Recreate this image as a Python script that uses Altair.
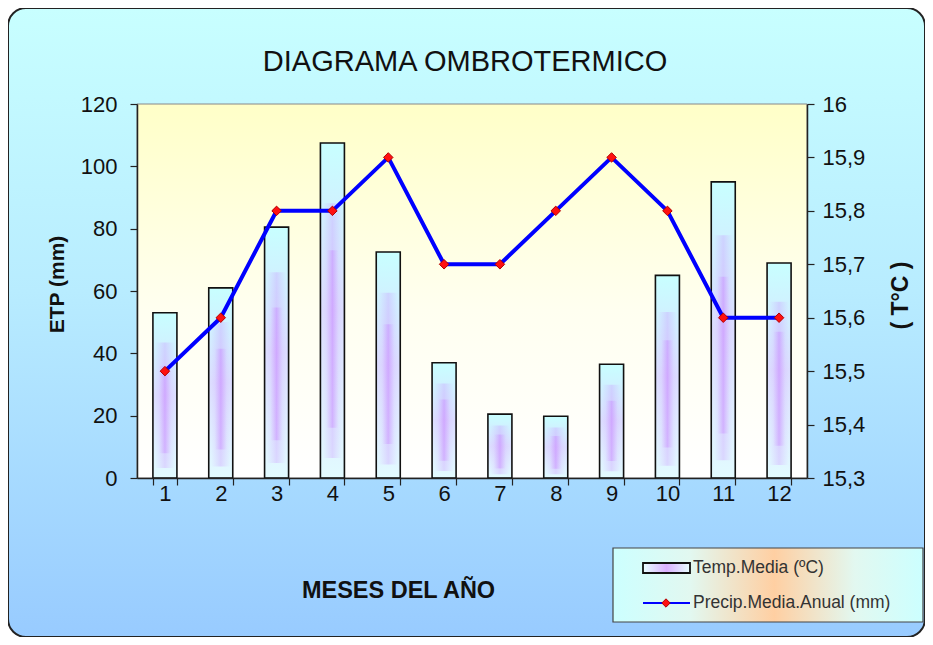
import altair as alt
import pandas as pd

# ---- data ----
meses = list(range(1, 13))
etp = [53, 61, 80.5, 107.5, 72.5, 37, 20.5, 19.8, 36.5, 65, 95, 69]
temp = [15.5, 15.6, 15.8, 15.8, 15.9, 15.7, 15.7, 15.8, 15.9, 15.8, 15.6, 15.6]
left_ticks = [0, 20, 40, 60, 80, 100, 120]
right_ticks = [15.3, 15.4, 15.5, 15.6, 15.7, 15.8, 15.9, 16.0]

titulo = "DIAGRAMA OMBROTERMICO"
titulo_x = "MESES DEL AÑO"
titulo_izq = "ETP (mm)"
titulo_der = "( T°C )"
leyenda_barras = "Temp.Media (ºC)"
leyenda_linea = "Precip.Media.Anual  (mm)"

W, H = 670, 374
PAD = {"left": 129, "top": 96, "right": 118, "bottom": 159}
FONT = "Liberation Sans"

df = pd.DataFrame({"mes": meses, "etp": etp, "temp": temp})
one = pd.DataFrame({"a": [1]})


def grad(stops, x1=0, y1=0, x2=0, y2=1):
    return alt.Gradient(
        gradient="linear",
        stops=[alt.GradientStop(color=c, offset=o) for o, c in stops],
        x1=x1, y1=y1, x2=x2, y2=y2,
    )


x_enc = alt.X(
    "mes:O",
    scale=alt.Scale(paddingInner=0.57, paddingOuter=0.285),
    axis=alt.Axis(
        title=titulo_x, labelAngle=0, tickBand="extent", zindex=2,
        domainColor="#222", domainWidth=1.5, tickColor="#222", tickWidth=1.2, tickSize=7,
        labelFont=FONT, labelFontSize=22, labelColor="#111", labelPadding=-2,
        titleFont=FONT, titleFontSize=23.5, titleFontWeight="bold", titleColor="#111",
        titleX=261, titleY=112, titleAlign="center", titleBaseline="middle",
    ),
)

y_left_scale = alt.Scale(domain=[0, 120], nice=False, zero=True)
y_right_scale = alt.Scale(domain=[15.3, 16], nice=False, zero=False)

# ---- decorative background ----
outer_bg = alt.Chart(one).mark_rect(
    cornerRadius=18,
    fill=grad([(0, "#c8ffff"), (0.45, "#b8ecff"), (1, "#98cbff")]),
    stroke="#222", strokeWidth=2,
).encode(x=alt.value(-PAD["left"]), x2=alt.value(W + PAD["right"]),
         y=alt.value(-PAD["top"]), y2=alt.value(H + PAD["bottom"]))

plot_bg = alt.Chart(one).mark_rect(
    fill=grad([(0, "#ffffc8"), (0.55, "#fffff0"), (1, "#ffffff")]),
    stroke="#888", strokeWidth=1,
).encode(x=alt.value(0), x2=alt.value(W), y=alt.value(0), y2=alt.value(H))

# ---- bars ----
bars = alt.Chart(df).mark_bar(
    fill=grad([(0, "#c8ffff"), (0.5, "#dcdcff"), (1, "#e2fbff")])
).encode(
    x=x_enc,
    y=alt.Y("etp:Q", scale=y_left_scale, axis=alt.Axis(
        orient="left", values=left_ticks, title=titulo_izq, grid=False, zindex=2,
        domainColor="#222", domainWidth=1.5, tickColor="#222", tickWidth=1.2, tickSize=7,
        labelFont=FONT, labelFontSize=22, labelColor="#111", labelPadding=13,
        titleFont=FONT, titleFontSize=21, titleFontWeight="bold", titleColor="#111",
        titleAngle=270, titleX=-80, titleY=180, titleAlign="center", titleBaseline="middle",
    )),
)

stripe_grad1 = grad([(0.1, "rgba(205,140,255,0)"), (0.5, "rgba(200,130,255,0.28)"),
                     (0.9, "rgba(205,140,255,0)")], x1=0, y1=0, x2=1, y2=0)
stripe_grad2 = grad([(0.25, "rgba(205,140,255,0)"), (0.5, "rgba(195,120,255,0.35)"),
                     (0.75, "rgba(205,140,255,0)")], x1=0, y1=0, x2=1, y2=0)

stripe1 = alt.Chart(df).transform_calculate(
    lo="datum.etp*0.06", hi="datum.etp*0.82"
).mark_bar(fill=stripe_grad1).encode(
    x=x_enc,
    y=alt.Y("hi:Q", scale=y_left_scale, axis=None),
    y2="lo:Q",
)
stripe2 = alt.Chart(df).transform_calculate(
    lo="datum.etp*0.15", hi="datum.etp*0.68"
).mark_bar(fill=stripe_grad2).encode(
    x=x_enc,
    y=alt.Y("hi:Q", scale=y_left_scale, axis=None),
    y2="lo:Q",
)

outline = alt.Chart(df).mark_bar(
    fillOpacity=0, stroke="#111", strokeWidth=1.6
).encode(
    x=x_enc,
    y=alt.Y("etp:Q", scale=y_left_scale, axis=None),
)

# ---- line ----
line = alt.Chart(df).mark_line(color="#0000ff", strokeWidth=4).encode(
    x=x_enc,
    y=alt.Y("temp:Q", scale=y_right_scale, axis=alt.Axis(
        orient="right", values=right_ticks, title=titulo_der, grid=False, zindex=2,
        labelExpr="replace(format(datum.value, '.3~g'), '.', ',')",
        domainColor="#222", domainWidth=1.5, tickColor="#222", tickWidth=1.2, tickSize=7,
        labelFont=FONT, labelFontSize=22, labelColor="#111", labelPadding=8,
        titleFont=FONT, titleFontSize=23, titleFontWeight="bold", titleColor="#111",
        titleAngle=270, titleX=93, titleY=191, titleAlign="center", titleBaseline="middle",
    )),
)
points = alt.Chart(df).mark_point(
    shape="diamond", filled=True, fill="#ff1010", stroke="#b00000",
    strokeWidth=1, size=90, opacity=1,
).encode(
    x=x_enc,
    y=alt.Y("temp:Q", scale=y_right_scale, axis=None),
)

# ---- title ----
title = alt.Chart(one).mark_text(
    text=titulo, font=FONT, fontSize=29, color="#111", align="center", baseline="alphabetic"
).encode(x=alt.value(328), y=alt.value(-33))

# ---- legend (drawn) ----
LX, LY = 476, 444
leg_box = alt.Chart(one).mark_rect(
    fill=grad([(0, "#ccffff"), (0.25, "#e2f8f0"), (0.52, "#ffcfa2"),
               (0.78, "#e2f8f0"), (1, "#ccffff")], x1=0, y1=0, x2=1, y2=0),
    stroke="#444", strokeWidth=1.2,
).encode(x=alt.value(LX), x2=alt.value(LX + 310), y=alt.value(LY), y2=alt.value(LY + 74))

leg_sym = alt.Chart(one).mark_rect(
    fill=grad([(0, "#e8ffff"), (0.5, "#d9b0ff"), (1, "#e8ffff")], x1=0, y1=0, x2=1, y2=0),
    stroke="#111", strokeWidth=1.8,
).encode(x=alt.value(LX + 30), x2=alt.value(LX + 77), y=alt.value(LY + 15), y2=alt.value(LY + 25))

leg_line = alt.Chart(one).mark_rule(color="#0000ff", strokeWidth=2).encode(
    x=alt.value(LX + 30), x2=alt.value(LX + 77), y=alt.value(LY + 55))
leg_pt = alt.Chart(one).mark_point(
    shape="diamond", filled=True, fill="#ff1010", stroke="#b00000",
    strokeWidth=1, size=70, opacity=1,
).encode(x=alt.value(LX + 53), y=alt.value(LY + 55))

leg_t1 = alt.Chart(one).mark_text(
    text=leyenda_barras, font=FONT, fontSize=17.5, color="#333", align="left", baseline="middle"
).encode(x=alt.value(LX + 80), y=alt.value(LY + 20))
leg_t2 = alt.Chart(one).mark_text(
    text=leyenda_linea, font=FONT, fontSize=17.5, color="#333", align="left", baseline="middle"
).encode(x=alt.value(LX + 80), y=alt.value(LY + 55))

chart = alt.layer(
    outer_bg, plot_bg, bars, stripe1, stripe2, outline, line, points,
    title, leg_box, leg_sym, leg_line, leg_pt, leg_t1, leg_t2,
).resolve_scale(
    y="independent"
).properties(
    width=W, height=H,
    autosize=alt.AutoSizeParams(type="none"),
    padding=PAD,
    background="#ffffff",
).configure_view(stroke=None)

chart.save("out.html", embed_options={"renderer": "svg", "actions": False})
